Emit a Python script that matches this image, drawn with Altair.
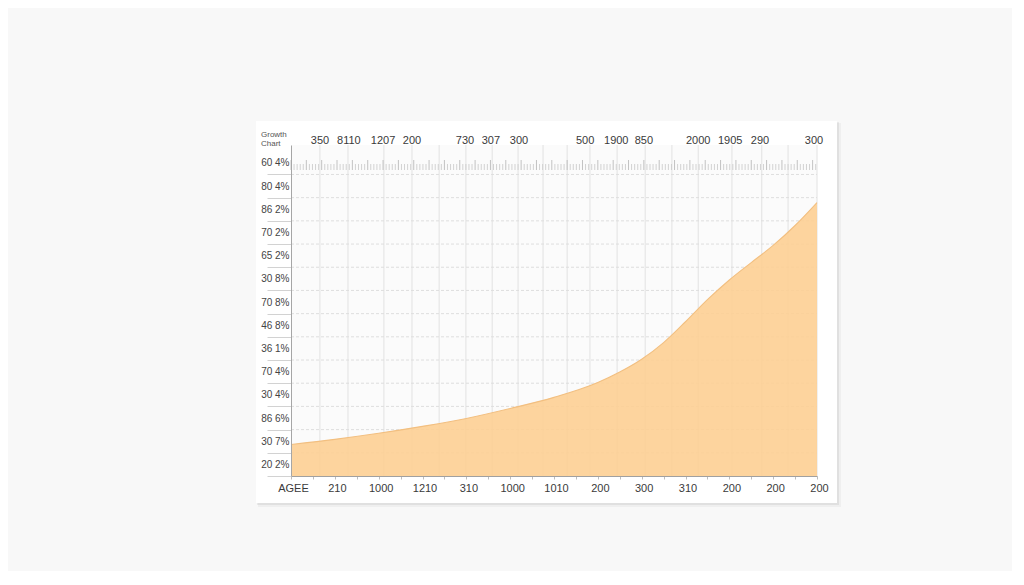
import altair as alt
import pandas as pd

# ---- data ----
area_x = [0, 1, 2, 3, 4, 5, 6, 7, 7.5, 8, 8.5, 9, 9.5, 10, 10.5, 11, 11.5, 12]
area_v = [0.86, 1.08, 1.34, 1.64, 1.98, 2.41, 2.89, 3.53, 3.98, 4.53, 5.25, 6.15, 7.10, 7.95, 8.70, 9.44, 10.30, 11.29]

bottom_labels = ["AGEE", "210", "1000", "1210", "310", "1000", "1010",
                 "200", "300", "310", "200", "200", "200"]
y_labels_top_down = ["60 4%", "80 4%", "86 2%", "70 2%", "65 2%", "30 8%", "70 8%",
                     "46 8%", "36 1%", "70 4%", "30 4%", "86 6%", "30 7%", "20 2%"]
top_labels = ["350", "8110", "1207", "200", "730", "307", "300",
              "500", "1900", "850", "2000", "1905", "290", "300"]
top_label_pos = [0.66, 1.32, 2.10, 2.76, 3.97, 4.56, 5.20,
                 6.71, 7.42, 8.05, 9.29, 10.02, 10.70, 11.93]
vgrid = [0.66, 1.30, 2.12, 2.76, 3.38, 3.99, 4.59, 5.18, 5.75, 6.30,
         6.82, 7.44, 8.08, 8.69, 9.29, 10.06, 10.74, 11.34, 12.0]
hgrid = [0.5, 1.5, 2.5, 3.5, 4.5, 5.5, 6.5, 7.5, 8.5, 9.5, 10.5, 11.5, 12.5]
ytick_vals = [-0.5] + hgrid
xtick_vals = [i * 0.5 for i in range(25)]
# decorative ruler along the top
ruler = [round(i * 0.07, 3) for i in range(172)]

W, H = 526, 331
X_DOM = [0, 12]
Y_DOM = [-0.5, 13.77]

y_labels_bottom_up = list(reversed(y_labels_top_down))
ylab_js = "[" + ",".join("'" + s + "'" for s in y_labels_bottom_up) + "]"
xlab_js = "[" + ",".join("'" + s + "'" for s in bottom_labels) + "]"
xlabel_expr = "datum.value % 1 == 0 ? " + xlab_js + "[round(datum.value)] : ''"
ylabel_expr = ylab_js + "[round(datum.value + 0.5)]"

xs = alt.Scale(domain=X_DOM, nice=False, zero=False)
ys = alt.Scale(domain=Y_DOM, nice=False, zero=False)

XAXIS = alt.Axis(
    orient="bottom", values=xtick_vals, title=None, grid=False,
    labelExpr=xlabel_expr,
    tickSize=3, tickColor="#bdbdbd", domainColor="#a0a0a0",
    labelFontSize=11, labelColor="#3a3a3a", labelPadding=3,
    labelFont="Liberation Sans", labelOffset=2, labelFlush=False, zindex=1)
YAXIS = alt.Axis(
    orient="left", values=ytick_vals, title=None, grid=False,
    labelExpr=ylabel_expr,
    tickSize=24, tickColor="#d2d2d2", domainColor="#a6a6a6",
    labelFontSize=10, labelColor="#444444", labelPadding=-22,
    labelOffset=-11.6, labelFont="Liberation Sans", labelFlush=False, zindex=1)

def X(f):
    return alt.X(f, scale=xs, axis=XAXIS, title=None)

def Y(f):
    return alt.Y(f, scale=ys, axis=YAXIS, title=None)

one = pd.DataFrame({"a": [0]})

# card + shadow (decoration)
shadow2 = alt.Chart(one).mark_rect(color="#000000", opacity=0.035).encode(
    x=alt.value(-33), x2=alt.value(550), y=alt.value(-22), y2=alt.value(362))
shadow1 = alt.Chart(one).mark_rect(color="#000000", opacity=0.06).encode(
    x=alt.value(-34), x2=alt.value(548), y=alt.value(-23), y2=alt.value(360))
card = alt.Chart(one).mark_rect(color="#ffffff").encode(
    x=alt.value(-35), x2=alt.value(546), y=alt.value(-24), y2=alt.value(358))
plotbg = alt.Chart(one).mark_rect(color="#fbfbfb").encode(
    x=alt.value(0), x2=alt.value(W), y=alt.value(0), y2=alt.value(H))

area_df = pd.DataFrame({"x": area_x, "v": area_v, "base": [Y_DOM[0]] * len(area_x)})
area = alt.Chart(area_df).mark_area(
    interpolate="monotone", color="#FDCF94", opacity=0.9,
    line={"color": "#F2BF80", "strokeWidth": 1.1}).encode(
    x=X("x:Q"), y=Y("v:Q"), y2="base:Q")

vg = alt.Chart(pd.DataFrame({"x": vgrid})).mark_rule(color="#e2e2e2", strokeWidth=1).encode(
    x=X("x:Q"), y=alt.value(0), y2=alt.value(H))

hg = alt.Chart(pd.DataFrame({"v": hgrid})).mark_rule(
    color="#dedede", strokeWidth=1, strokeDash=[3, 2]).encode(
    y=Y("v:Q"), x=alt.value(0), x2=alt.value(W))

rul = pd.DataFrame({"x": ruler, "major": [i % 5 == 0 for i in range(len(ruler))]})
ruler_minor = alt.Chart(rul).transform_filter("!datum.major").mark_rule(
    color="#c8c8c8", strokeWidth=0.8).encode(
    x=X("x:Q"), y=alt.value(19), y2=alt.value(25))
ruler_major = alt.Chart(rul).transform_filter("datum.major").mark_rule(
    color="#b4b4b4", strokeWidth=0.8).encode(
    x=X("x:Q"), y=alt.value(15), y2=alt.value(25))

top = alt.Chart(pd.DataFrame({"x": top_label_pos, "t": top_labels})).mark_text(
    fontSize=11, color="#3a3a3a", font="Liberation Sans", baseline="middle").encode(
    x=X("x:Q"), y=alt.value(-4), text="t:N")

title = alt.Chart(one).mark_text(
    text="Growth\nChart", lineBreak="\n", align="left", baseline="middle",
    fontSize=8, lineHeight=9, color="#555555", font="Liberation Sans").encode(
    x=alt.value(-30), y=alt.value(-10))

chart = alt.layer(
    shadow2, shadow1, card, plotbg, vg, hg, ruler_minor, ruler_major, area, top, title
).properties(
    width=W, height=H,
    padding={"left": 283, "top": 137, "right": 195, "bottom": 95},
    autosize=alt.AutoSizeParams(type="none"),
).configure(background="#f8f8f8").configure_view(stroke=None)

chart.save("out.html", embed_options={"renderer": "svg", "actions": False})
